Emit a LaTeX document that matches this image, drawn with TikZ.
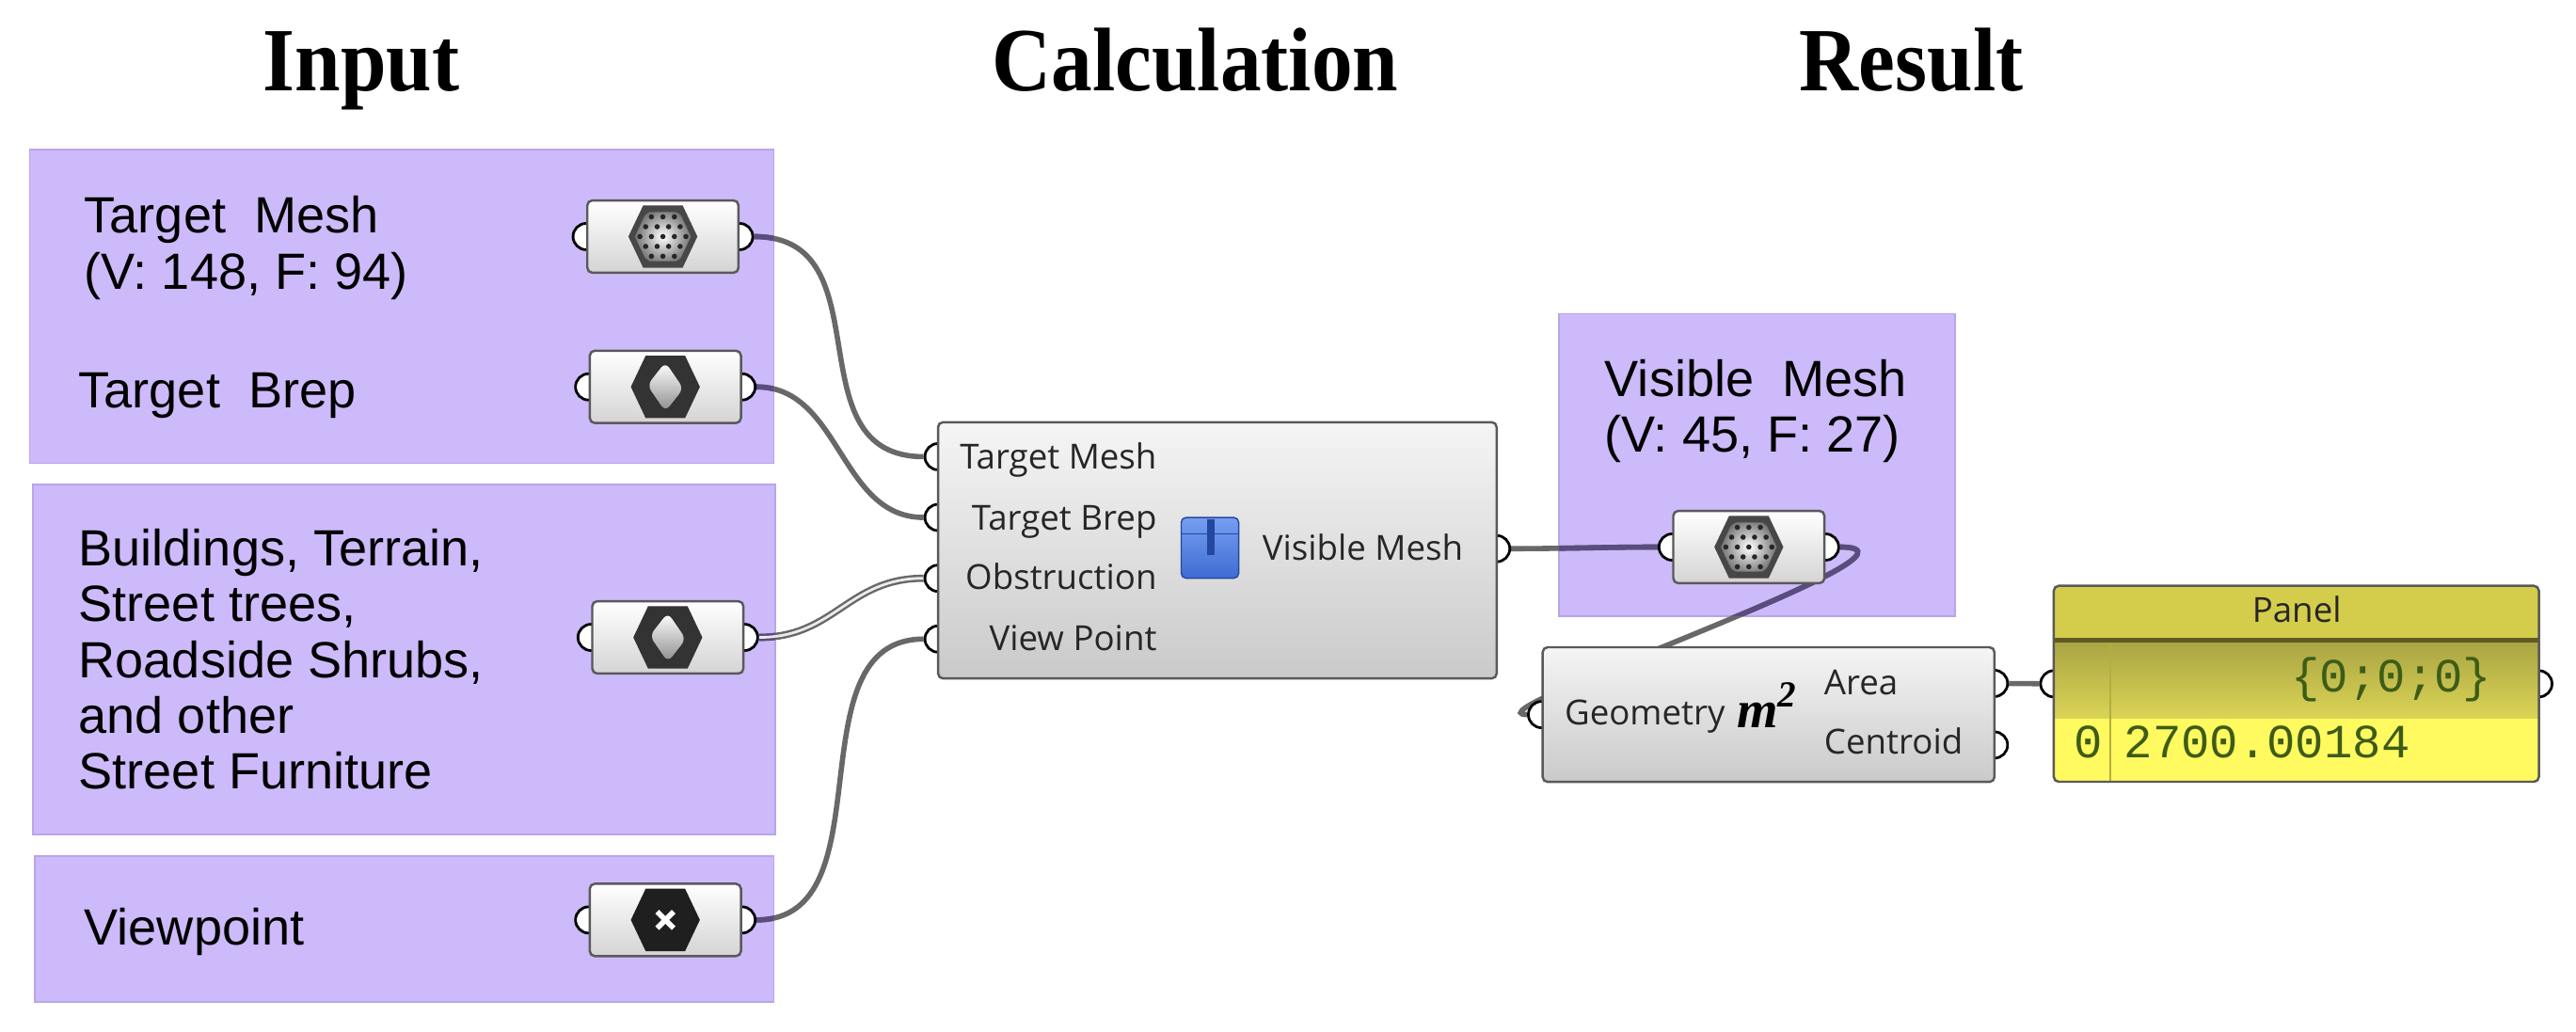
\documentclass[tikz,border=0pt]{standalone}
\usepackage{fontspec}
\usepackage{graphicx}
\setmainfont{Liberation Sans}
\newfontfamily\titlefont{Liberation Serif}
\newfontfamily\ghfont{Open Sans}
\newfontfamily\panelfont{Liberation Mono}
\usetikzlibrary{positioning}

\definecolor{grouppurple}{RGB}{205,186,250}
\definecolor{groupedge}{RGB}{184,165,234}
\definecolor{wiregray}{RGB}{104,104,104}
\definecolor{wiretint}{RGB}{90,76,126}
\definecolor{boxblue}{RGB}{62,108,212}
\definecolor{boxlight}{RGB}{118,158,240}
\definecolor{boxdark}{RGB}{36,72,160}
\definecolor{panelhead}{RGB}{212,205,75}
\definecolor{panelmid}{RGB}{218,212,86}
\definecolor{panelrow}{RGB}{255,250,95}
\definecolor{panelrule}{RGB}{95,90,35}
\definecolor{paneltext}{RGB}{62,92,24}

\pgfdeclarelayer{groups}
\pgfdeclarelayer{wires}
\pgfdeclarelayer{grips}
\pgfsetlayers{groups,wires,grips,main}

\tikzset{
  title/.style={font=\titlefont\bfseries\fontsize{25}{30}\selectfont, anchor=base, inner sep=0pt},
  group/.style={fill=grouppurple, draw=groupedge, line width=0.5pt},
  grouplabel/.style={font=\fontsize{15.5}{17}\selectfont, align=left, inner sep=0pt},
  ghlabel/.style={font=\ghfont\fontsize{10.5}{12}\selectfont, inner sep=0pt, text=black!85},
  paneltxt/.style={font=\panelfont\fontsize{14.5}{16}\selectfont, inner sep=0pt, text=paneltext},
  param/.style={draw=black!65, line width=0.7pt, rounded corners=1.5pt, top color=white, bottom color=black!17, minimum width=46pt, minimum height=22pt, inner sep=0pt},
  comp/.style={draw=black!65, line width=0.7pt, rounded corners=1.5pt, top color=black!4, bottom color=black!21, inner sep=0pt},
  grip/.style={circle, draw=black, line width=0.8pt, fill=white, minimum size=8pt, inner sep=0pt},
  wire/.style={draw=wiregray, line width=1.6pt},
  listwire/.style={draw=wiregray, line width=0.7pt, double=white!92!black, double distance=0.8pt},
  hexbase/.pic={\fill[#1] (-21,0) -- (-12,-19) -- (12,-19) -- (21,0) -- (12,19) -- (-12,19) -- cycle;},
  meshicon/.pic={
    \pic {hexbase=black!72};
    \begin{scope}
      \clip (-17,0) -- (-10,-15) -- (10,-15) -- (17,0) -- (10,15) -- (-10,15) -- cycle;
      \shade[inner color=white, outer color=black!55] (0,0) circle (17);
      \foreach \j/\o in {-12/0,-6/3.5,0/0,6/3.5,12/0}
        \foreach \i in {-14,-7,0,7,14}
          \fill[black!85] (\i+\o,\j) circle (1.6);
    \end{scope}
  },
  brepicon/.pic={
    \pic {hexbase=black!80};
    \shade[top color=white, bottom color=black!45, rounded corners=2pt] (0,-15) -- (11,-1) -- (0,15) -- (-11,1) -- cycle;
  },
  pointicon/.pic={
    \pic {hexbase=black!88};
    \draw[white, line width=1.6pt] (-5,-5) -- (5,5) (-5,5) -- (5,-5);
  }
}

% wires, drawn once plain and once tinted inside the groups
\newcommand{\drawwires}[1]{%
  \draw[wire,#1] (meshOut) .. controls +(90,0) and +(-90,0) .. (calcMeshIn);
  \draw[wire,#1] (brepOut) .. controls +(60,0) and +(-60,0) .. (calcBrepIn);
  \draw[listwire,#1] (obstOut) .. controls +(55,0) and +(-55,0) .. (calcObstIn);
  \draw[wire,#1] (viewOut) .. controls +(90,0) and +(-90,0) .. (calcViewIn);
  \draw[wire,#1] (calcOut) .. controls +(40,0) and +(-40,0) .. (visIn);
  \draw[wire,#1] (visOut) .. controls +(80,0) and +(-50,0) .. (areaIn);
  \draw[wire,#1] (areaOut) -- (panelIn);
}

\begin{document}
\begin{tikzpicture}[x=0.5pt,y=0.5pt,yscale=-1,xscale=1]
\useasboundingbox (0,0) rectangle (1568,627.7);

% titles
\node[title] (tInput) at (220,55.5) {\scalebox{1}[1.1]{Input}};
\node[title] (tCalc) at (727.5,55.5) {\scalebox{1}[1.1]{Calculation}};
\node[title] (tResult) at (1163.5,55.5) {\scalebox{1}[1.1]{Result}};

% groups
\begin{pgfonlayer}{groups}
\draw[group] (18,91) rectangle (471,282);
\draw[group] (20,295) rectangle (472,508);
\draw[group] (21,521) rectangle (471,610);
\draw[group] (949,191) rectangle (1190,375);
\end{pgfonlayer}

% group texts
\node[grouplabel, anchor=north west] (lMesh) at (51,119) {Target\ \ Mesh\\(V: 148, F: 94)};
\node[grouplabel, anchor=base west] (lBrep) at (47.5,248) {Target\ \ Brep};
\node[grouplabel, anchor=north west] (lObst) at (47.5,321.5) {Buildings, Terrain,\\Street trees,\\Roadside Shrubs,\\and other\\Street Furniture};
\node[grouplabel, anchor=base west] (lView) at (51,575) {Viewpoint};
\node[grouplabel, anchor=north west] (lVis) at (976.5,218.5) {Visible\ \ Mesh\\(V: 45, F: 27)};

% params
\node[param] (pMesh) at (403.5,144) {};
\node[param] (pBrep) at (405,235.5) {};
\node[param] (pObst) at (406.5,388) {};
\node[param] (pView) at (405,560) {};
\node[param] (pVis) at (1064.5,333) {};
\pic at (pMesh) {meshicon};
\pic at (pBrep) {brepicon};
\pic at (pObst) {brepicon};
\pic at (pView) {pointicon};
\pic at (pVis) {meshicon};

% components
\node[comp, minimum width=170pt, minimum height=78pt] (calc) at (741,335) {};
\node[comp, minimum width=137.5pt, minimum height=41pt] (area) at (1076.5,435) {};
\node[fill=panelrow, minimum width=147.25pt, minimum height=59.25pt, inner sep=0pt, rounded corners=1.5pt] (panel) at (1397.75,416.25) {};

% grips
\begin{pgfonlayer}{grips}
\node[grip] (meshIn) at (pMesh.west) {};
\node[grip] (meshOut) at (pMesh.east) {};
\node[grip] (brepIn) at (pBrep.west) {};
\node[grip] (brepOut) at (pBrep.east) {};
\node[grip] (obstIn) at (pObst.west) {};
\node[grip] (obstOut) at (pObst.east) {};
\node[grip] (viewIn) at (pView.west) {};
\node[grip] (viewOut) at (pView.east) {};
\node[grip] (visIn) at (pVis.west) {};
\node[grip] (visOut) at (pVis.east) {};
\node[grip] (calcMeshIn) at (571,278) {};
\node[grip] (calcBrepIn) at (571,315) {};
\node[grip] (calcObstIn) at (571,352) {};
\node[grip] (calcViewIn) at (571,389) {};
\node[grip] (calcOut) at (911,334) {};
\node[grip] (areaIn) at (area.west) {};
\node[grip] (areaOut) at (1214,416) {};
\node[grip] (centOut) at (1214,453.5) {};
\node[grip] (panelIn) at (panel.west) {};
\node[grip] (panelOut) at (panel.east) {};
\end{pgfonlayer}

% wires
\begin{pgfonlayer}{wires}
\drawwires{}
\begin{scope}
  \clip (18,91) rectangle (471,282) (20,295) rectangle (472,508) (21,521) rectangle (471,610) (949,191) rectangle (1190,375);
  \drawwires{draw=wiretint}
\end{scope}
\end{pgfonlayer}

% calculation component
\node[ghlabel, anchor=base east] (cMesh) at (704.5,285.3) {Target Mesh};
\node[ghlabel, anchor=base east] (cBrep) at (704.5,322.6) {Target Brep};
\node[ghlabel, anchor=base east] (cObst) at (704.5,359) {Obstruction};
\node[ghlabel, anchor=base east] (cView) at (704.5,396) {View Point};
\node[ghlabel, anchor=base west] (cVis) at (768,341) {Visible Mesh};
\shade[top color=boxlight, bottom color=boxblue, draw=boxdark, line width=0.4pt, rounded corners=1.5pt] (719,315) rectangle (754,352);
\draw[boxdark, line width=0.4pt] (719,325) -- (754,325);
\fill[boxdark] (734.5,316) rectangle (739.5,338);

% area component
\node[ghlabel, anchor=base west] (aGeo) at (952,441) {Geometry};
\node[anchor=base west, inner sep=0pt, font=\titlefont\bfseries\itshape\fontsize{16}{18}\selectfont] (aIcon) at (1057,443) {m\textsuperscript{2}};
\node[ghlabel, anchor=base west] (aArea) at (1110,422.7) {Area};
\node[ghlabel, anchor=base west] (aCent) at (1110,459) {Centroid};

% panel
\begin{scope}
  \clip[rounded corners=1.5pt] (panel.south west) rectangle (panel.north east);
  \fill[panelhead] (1250,356) rectangle (1546,388);
  \fill[panelrule] (1250,388) rectangle (1546,391.5);
  \shade[top color=panelmid!78!black, bottom color=panelmid] (1250,391.5) rectangle (1546,437);
  \draw[panelhead!85!black, line width=0.6pt] (1284.7,391.5) -- (1284.7,477);
\end{scope}
\draw[black!65, line width=0.7pt, rounded corners=1.5pt] (panel.south west) rectangle (panel.north east);
\node[ghlabel, anchor=base] (pTitle) at (1398,379) {Panel};
\node[paneltxt, anchor=base east] (pList) at (1517,421) {\{0;0;0\}};
\node[paneltxt, anchor=base west] (pIdx) at (1262,461) {0};
\node[paneltxt, anchor=base west] (pVal) at (1292.5,461) {2700.00184};

\end{tikzpicture}
\end{document}
